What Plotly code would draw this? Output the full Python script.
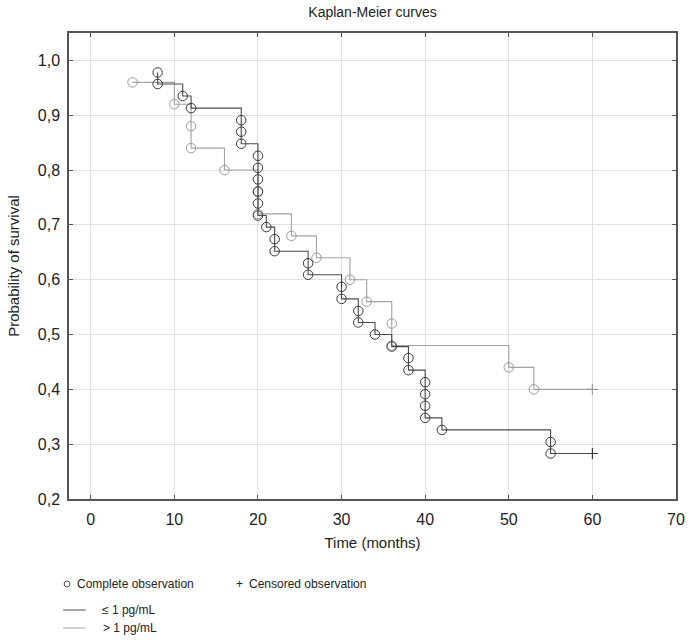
import plotly.graph_objects as go

# ---- data ----
# group 1: <= 1 pg/mL (dark curve) - event times (one entry per death) and survival after each
g1_times = [8, 8, 11, 12, 18, 18, 18, 20, 20, 20, 20, 20, 20, 21, 22, 22, 26, 26,
            30, 30, 32, 32, 34, 36, 38, 38, 40, 40, 40, 40, 42, 55, 55]
g1_surv = [0.978, 0.957, 0.935, 0.913, 0.891, 0.870, 0.848, 0.826, 0.804, 0.783,
           0.761, 0.739, 0.717, 0.696, 0.674, 0.652, 0.630, 0.609, 0.587, 0.565,
           0.543, 0.522, 0.500, 0.478, 0.457, 0.435, 0.413, 0.391, 0.370, 0.348,
           0.326, 0.304, 0.283]
g1_cens_time = [60]
g1_cens_surv = [0.283]

# group 2: > 1 pg/mL (light curve)
g2_times = [5, 10, 12, 12, 16, 20, 20, 24, 27, 31, 33, 36, 36, 50, 53]
g2_surv = [0.96, 0.92, 0.88, 0.84, 0.80, 0.76, 0.72, 0.68, 0.64, 0.60, 0.56,
           0.52, 0.48, 0.44, 0.40]
g2_cens_time = [60]
g2_cens_surv = [0.40]

x_ticks = [0, 10, 20, 30, 40, 50, 60, 70]
y_ticks = [0.2, 0.3, 0.4, 0.5, 0.6, 0.7, 0.8, 0.9, 1.0]

DARK = "#4a4a4a"
DARK_M = "#3a3a3a"
LIGHT = "#a2a2a2"
LIGHT_M = "#9a9a9a"
FONT = "Liberation Sans, Arial, sans-serif"

fig = go.Figure()


def add_group(times, surv, ct, cs, lcol, mcol):
    fig.add_trace(go.Scatter(x=times + ct, y=surv + cs, mode="lines",
                             line=dict(color=lcol, width=1.1, shape="hv"),
                             hoverinfo="skip", showlegend=False))
    fig.add_trace(go.Scatter(x=times, y=surv, mode="markers",
                             marker=dict(symbol="circle-open", size=9.5,
                                         color=mcol, line=dict(width=1, color=mcol)),
                             showlegend=False))
    fig.add_trace(go.Scatter(x=ct, y=cs, mode="markers",
                             marker=dict(symbol="cross-thin-open", size=8,
                                         color=mcol, line=dict(width=1.2, color=mcol)),
                             showlegend=False))


add_group(g2_times, g2_surv, g2_cens_time, g2_cens_surv, LIGHT, LIGHT_M)
add_group(g1_times, g1_surv, g1_cens_time, g1_cens_surv, DARK, DARK_M)

W, H = 697, 641
L, R, T, B = 65, 14, 33, 142
PW, PH = W - L - R, H - T - B


def px(x):
    return (x - L) / PW


def py(y):
    return (H - B - y) / PH


axis_common = dict(
    showline=True, linecolor="#555555", linewidth=1.5, mirror="ticks",
    ticks="inside", ticklen=4, tickwidth=1.3, tickcolor="#555555",
    showgrid=True, gridcolor="#e2e2e2", gridwidth=1, zeroline=False,
    tickfont=dict(family=FONT, size=16, color="#222222"),
)

fig.update_xaxes(range=[-2.6, 70], tickvals=x_ticks, ticklabelstandoff=5,
                 title=dict(text="Time (months)", font=dict(family=FONT, size=15, color="#222222"),
                            standoff=11),
                 **axis_common)
fig.update_yaxes(range=[0.2, 1.05], tickvals=y_ticks, tickformat=".1f", ticklabelstandoff=4,
                 title=dict(text="Probability of survival", font=dict(family=FONT, size=15, color="#222222"),
                            standoff=15),
                 **axis_common)

shapes = [
    dict(type="circle", xref="paper", yref="paper",
         x0=px(60), x1=px(66), y0=py(587), y1=py(581),
         line=dict(color="#555555", width=1)),
    dict(type="line", xref="paper", yref="paper",
         x0=px(59), x1=px(82), y0=py(610), y1=py(610),
         line=dict(color=DARK, width=1)),
    dict(type="line", xref="paper", yref="paper",
         x0=px(59), x1=px(82), y0=py(628), y1=py(628),
         line=dict(color=LIGHT, width=1)),
]

legend_font = dict(family=FONT, size=12, color="#222222")
annotations = [
    dict(text="Complete observation", x=px(71), y=py(584)),
    dict(text="+", x=px(233), y=py(584)),
    dict(text="Censored observation", x=px(246), y=py(584)),
    dict(text="≤ 1 pg/mL", x=px(97), y=py(610)),
    dict(text="> 1 pg/mL", x=px(98), y=py(628)),
]
for a in annotations:
    a.update(xref="paper", yref="paper", xanchor="left", yanchor="middle",
             showarrow=False, font=legend_font)

fig.update_layout(
    width=W, height=H,
    margin=dict(l=L, r=R, t=T, b=B),
    paper_bgcolor="white", plot_bgcolor="white",
    separators=",.",
    title=dict(text="Kaplan-Meier curves", x=0.5, xref="paper", y=1 - 12 / H,
               yanchor="middle", font=dict(family=FONT, size=14, color="#222222")),
    shapes=shapes, annotations=annotations,
    showlegend=False,
)

fig.write_html("out.html", config={"displayModeBar": False},
               post_script="document.body.style.margin='0';document.body.style.padding='0';")
